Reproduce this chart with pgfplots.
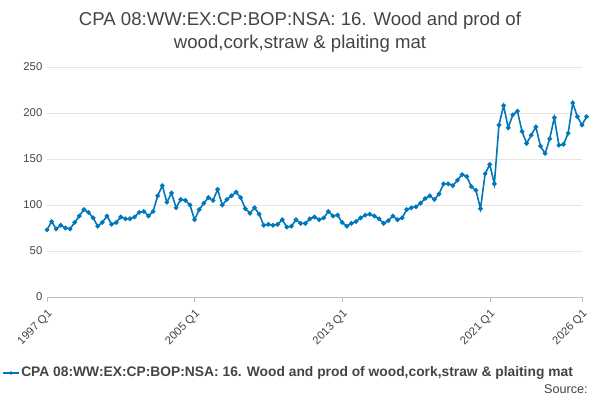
\documentclass[border=0pt]{standalone}
\usepackage{pgfplots}
\pgfplotsset{compat=1.18}
\usepackage{fontspec}
\setmainfont{Liberation Sans}
\definecolor{ln}{HTML}{0077BB}
\definecolor{tx}{HTML}{444444}
\begin{document}
\begin{tikzpicture}[x=0.26458mm,y=0.26458mm]
\path[use as bounding box] (0,0) rectangle (600,400);
\node[font=\fontsize{14}{17}\selectfont,text=tx,align=center] at (300,368) {CPA 08:WW:EX:CP:BOP:NSA: 16. Wood and prod of\\wood,cork,straw \& plaiting mat};
\begin{axis}[
 scale only axis, width=141.55mm, height=60.85mm,
 at={(12.435mm,27.25mm)}, anchor=south west,
 xmin=0, xmax=116, ymin=0, ymax=250,
 xtick={0,32,64,96,116},
 xticklabels={1997 Q1,2005 Q1,2013 Q1,2021 Q1,2026 Q1},
 x tick label style={rotate=45,anchor=north east,font=\fontsize{8.5}{10}\selectfont,text=tx},
 ytick={0,50,100,150,200,250},
 y tick label style={font=\fontsize{8.5}{10}\selectfont,text=tx},
 /pgf/number format/assume math mode=true,
 ymajorgrids, grid style={gray!20},
 axis y line*=left, axis x line*=bottom,
 y axis line style={draw=none}, x axis line style={gray!50},
 xtick style={draw=gray!50}, ytick style={draw=none}, major tick length=4pt, xtick align=outside,
 clip=false,
]
\addplot[ln, very thick, mark=*, mark size=1.1pt] table[x expr=\coordindex, y index=0] {
v
73
82
74
78
75
74
81
88
95
92
86
77
81
88
79
81
87
85
85
87
92
93
88
93
110
121
103
113
97
106
105
100
84
95
102
108
105
117
100
106
110
114
108
96
91
97
90
78
79
78
79
84
76
77
84
80
80
85
87
84
86
93
88
89
81
77
80
82
86
89
90
88
85
80
83
88
84
86
95
97
98
102
107
110
106
112
123
123
121
127
133
131
120
116
96
134
144
123
187
208
184
198
202
180
167
176
185
164
156
172
195
165
166
178
211
196
187
196
};
\end{axis}
\draw[ln, very thick] (3,27) -- (19,27);
\fill[ln] (11,27) circle (1.8);
\node[anchor=west,font=\bfseries\fontsize{10.4}{12}\selectfont,text=tx,inner sep=0] at (21,27) {CPA 08:WW:EX:CP:BOP:NSA: 16. Wood and prod of wood,cork,straw \& plaiting mat};
\node[anchor=east,font=\fontsize{9.5}{11}\selectfont,text=tx,inner sep=0] at (588,11) {Source:};
\end{tikzpicture}
\end{document}
